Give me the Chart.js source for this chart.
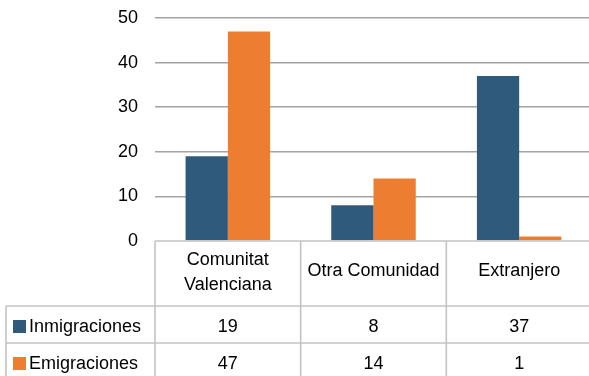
<!DOCTYPE html>
<html>
<head>
<meta charset="utf-8">
<script src="https://cdn.jsdelivr.net/npm/chart.js@4"></script>
<style>
  html, body { margin: 0; padding: 0; background: #fff; }
  #wrap { width: 589px; height: 376px; overflow: hidden; }
</style>
</head>
<body>
<div id="wrap"><canvas id="migChart" width="592" height="376"></canvas></div>
<script>
// Movimientos migratorios por origen / destino
var categories = ['Comunitat Valenciana', 'Otra Comunidad', 'Extranjero'];
var seriesNames = ['Inmigraciones', 'Emigraciones'];
var inmigraciones = [19, 8, 37];
var emigraciones = [47, 14, 1];
var seriesColors = ['#305a7b', '#ed7d31'];
var yTicks = [0, 10, 20, 30, 40, 50];

var FONT = '18px "Liberation Sans", Arial, sans-serif';
var LINE = '#c4c4c4';

// split a label into lines that fit the cell
function wrapText(ctx, text, maxW) {
    var words = text.split(' ');
    var lines = [];
    var cur = '';
    words.forEach(function (w) {
        var test = cur ? cur + ' ' + w : w;
        if (cur && ctx.measureText(test).width > maxW) {
            lines.push(cur);
            cur = w;
        } else {
            cur = test;
        }
    });
    if (cur) lines.push(cur);
    return lines;
}

// data table under the plot (Excel style)
var dataTable = {
    id: 'dataTable',
    afterDatasetsDraw: function (chart) {
        var ctx = chart.ctx;
        var area = chart.chartArea;
        var x = chart.scales.x;
        var n = categories.length;
        var colW = (area.right - area.left) / n;
        var top = area.bottom;
        var headBottom = top + 65;
        var row1Bottom = headBottom + 37;
        var bottom = chart.height;
        var tableLeft = 6;
        var rows = [inmigraciones, emigraciones];

        ctx.save();
        ctx.strokeStyle = LINE;
        ctx.lineWidth = 1.6;
        ctx.beginPath();
        // top edge of table / axis line
        ctx.moveTo(area.left, top);
        ctx.lineTo(chart.width, top);
        ctx.moveTo(tableLeft, headBottom);
        ctx.lineTo(chart.width, headBottom);
        ctx.moveTo(tableLeft, row1Bottom);
        ctx.lineTo(chart.width, row1Bottom);
        ctx.moveTo(tableLeft, headBottom);
        ctx.lineTo(tableLeft, bottom);
        for (var i = 0; i <= n; i++) {
            var bx = area.left + i * colW;
            ctx.moveTo(bx, top);
            ctx.lineTo(bx, bottom);
        }
        ctx.stroke();

        ctx.font = FONT;
        ctx.fillStyle = '#000';
        ctx.textAlign = 'center';
        ctx.textBaseline = 'alphabetic';

        // header row with category names
        categories.forEach(function (c, i) {
            var cx = x.getPixelForValue(i);
            var lines = wrapText(ctx, c, colW - 8);
            if (lines.length === 1) {
                ctx.fillText(lines[0], cx, top + 35);
            } else {
                lines.forEach(function (l, k) {
                    ctx.fillText(l, cx, top + 24 + k * 25);
                });
            }
        });

        // value rows
        var rowTops = [headBottom, row1Bottom];
        rows.forEach(function (vals, r) {
            var base = rowTops[r] + 26;
            ctx.textAlign = 'center';
            ctx.fillStyle = '#000';
            vals.forEach(function (v, i) {
                ctx.fillText(String(v), x.getPixelForValue(i), base);
            });
            // legend key + series name
            ctx.fillStyle = seriesColors[r];
            ctx.fillRect(13, base - 12, 13, 13);
            ctx.fillStyle = '#000';
            ctx.textAlign = 'left';
            ctx.fillText(seriesNames[r], 29, base);
        });
        ctx.restore();
    }
};

var ctxC = document.getElementById('migChart').getContext('2d');
var migChart = new Chart(ctxC, {
    type: 'bar',
    data: {
        labels: categories,
        datasets: [{
            label: seriesNames[0],
            data: inmigraciones,
            backgroundColor: seriesColors[0],
            categoryPercentage: 0.58,
            barPercentage: 1.0
        }, {
            label: seriesNames[1],
            data: emigraciones,
            backgroundColor: seriesColors[1],
            categoryPercentage: 0.58,
            barPercentage: 1.0
        }]
    },
    options: {
        responsive: false,
        animation: false,
        layout: {
            padding: { top: 18, bottom: 135, left: 0, right: 0 }
        },
        plugins: {
            legend: { display: false },
            tooltip: { enabled: false }
        },
        scales: {
            x: {
                display: false
            },
            y: {
                min: 0,
                max: 50,
                afterBuildTicks: function (scale) {
                    scale.ticks = yTicks.map(function (v) { return { value: v }; });
                },
                afterFit: function (scale) {
                    scale.width = 155;
                    // the layout padding already leaves room for the labels
                    scale.paddingTop = 0;
                    scale.paddingBottom = 0;
                },
                border: { display: false },
                grid: {
                    drawTicks: false,
                    lineWidth: 1.6,
                    color: function (c) {
                        return c.tick && c.tick.value === 0 ? 'rgba(0,0,0,0)' : '#a3a3a3';
                    }
                },
                ticks: {
                    padding: 17,
                    color: '#000',
                    font: { family: '"Liberation Sans", Arial, sans-serif', size: 18 }
                }
            }
        }
    },
    plugins: [dataTable]
});
</script>
</body>
</html>
